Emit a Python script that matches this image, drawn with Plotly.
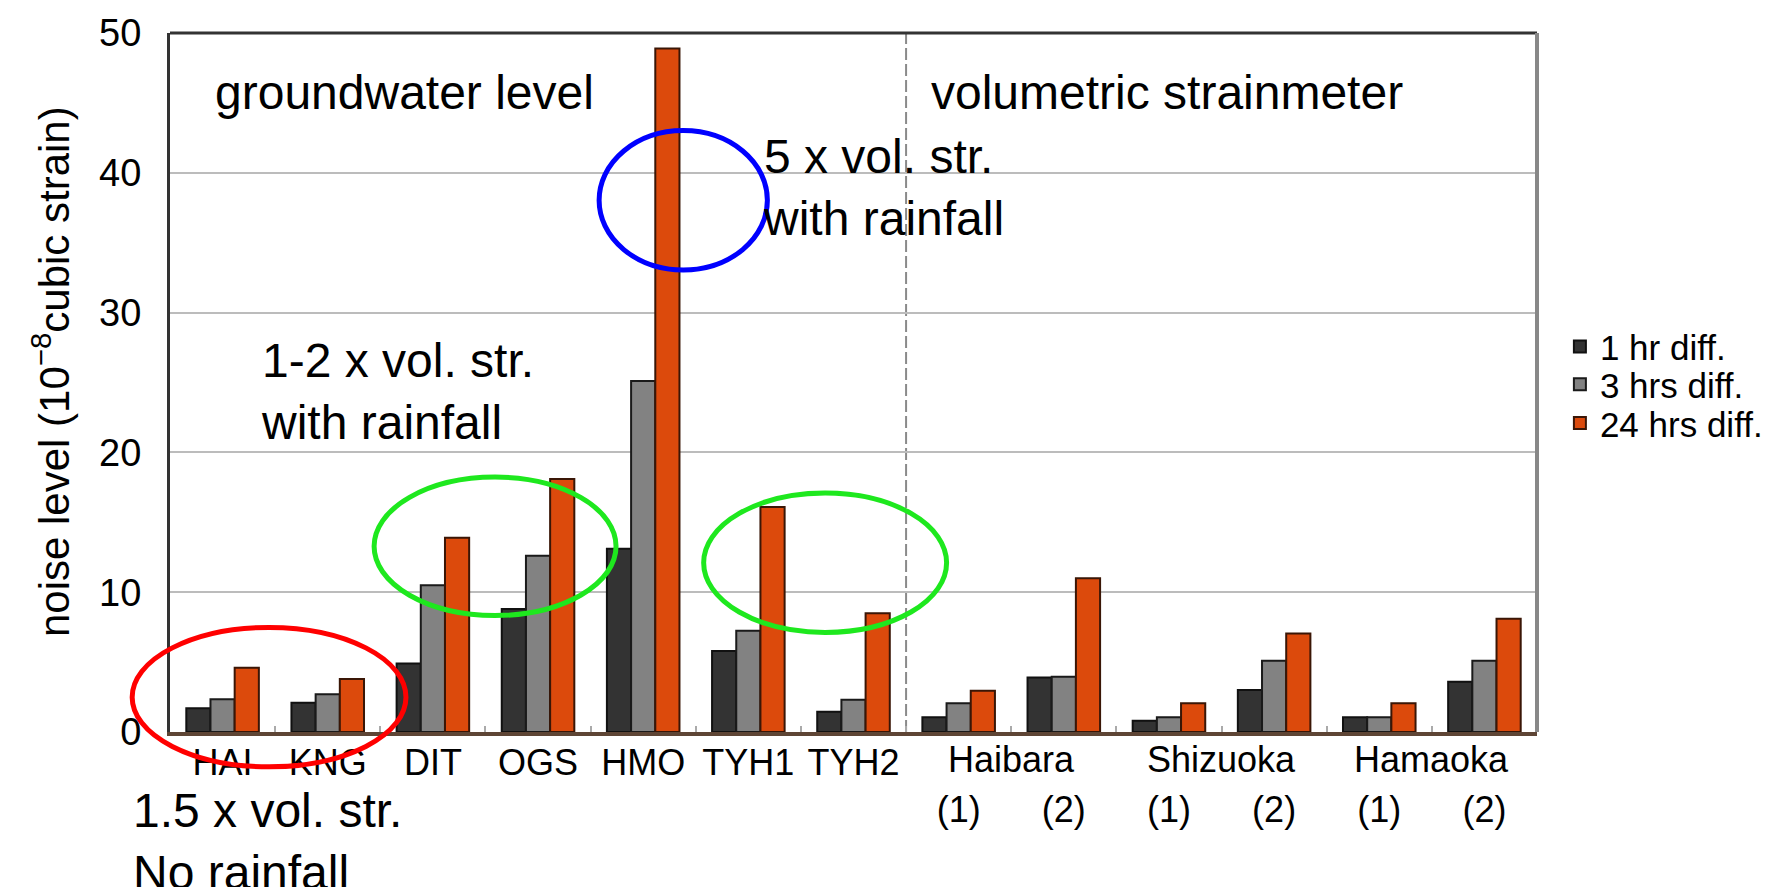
import plotly.graph_objects as go

# ---------------- data ----------------
categories = ["HAI", "KNG", "DIT", "OGS", "HMO", "TYH1", "TYH2",
              "Haibara (1)", "Haibara (2)", "Shizuoka (1)", "Shizuoka (2)",
              "Hamaoka (1)", "Hamaoka (2)"]
tick_labels = ["HAI", "KNG", "DIT", "OGS", "HMO", "TYH1", "TYH2",
               " <br>(1)", " <br>(2)", " <br>(1)", " <br>(2)", " <br>(1)", " <br>(2)"]
station_groups = ["Haibara", "Shizuoka", "Hamaoka"]
station_group_pos = [7.5, 9.5, 11.5]

diff_1hr = [1.7, 2.1, 4.9, 8.8, 13.1, 5.8, 1.45, 1.05, 3.9, 0.8, 3.0, 1.05, 3.6]
diff_3hrs = [2.35, 2.7, 10.5, 12.6, 25.1, 7.25, 2.3, 2.05, 3.95, 1.05, 5.1, 1.05, 5.1]
diff_24hrs = [4.6, 3.8, 13.9, 18.1, 48.9, 16.1, 8.5, 2.95, 11.0, 2.05, 7.05, 2.05, 8.1]

series_names = ["1 hr diff.", "3 hrs diff.", "24 hrs diff."]
series_values = [diff_1hr, diff_3hrs, diff_24hrs]
series_colors = ["#333333", "#828282", "#dc4a0c"]
series_edges = ["#111111", "#1a1a1a", "#3a1606"]

# ---------------- layout geometry (pixels) ----------------
W, H = 1780, 887
L, R, T, B = 170, 1543, 30, 732
FONT = "Liberation Sans, Arial, Helvetica, sans-serif"


def px_x(px):
    return (px - L) / (R - L)


def px_y(py):
    return (B - py) / (B - T)


legend_ids = ["legend", "legend2", "legend3"]
legend_rows = [345, 383, 422]

fig = go.Figure()
for name, vals, col, edge, lid in zip(series_names, series_values, series_colors,
                                      series_edges, legend_ids):
    fig.add_trace(go.Bar(
        x=categories, y=vals, name=name, legend=lid,
        marker=dict(color=col, line=dict(color=edge, width=2)),
    ))

shapes = []
# top border and right border of the frame
shapes.append(dict(type="line", xref="paper", yref="paper", x0=0, x1=1, y0=1, y1=1,
                   line=dict(color="#333333", width=3), layer="above"))
shapes.append(dict(type="line", xref="paper", yref="paper", x0=1, x1=1, y0=0, y1=1,
                   line=dict(color="#888888", width=4), layer="above"))
# dashed separator between groundwater and strainmeter stations
shapes.append(dict(type="line", xref="x", yref="paper", x0=6.5, x1=6.5, y0=0, y1=1,
                   line=dict(color="#8a8a8a", width=2, dash="12px,4px"), layer="below"))

# highlight ellipses (pixel boxes)
ellipses = [
    ((132, 407, 627, 767), "#ff0000"),
    ((375, 618, 476, 615), "#1ee81e"),
    ((706, 950, 492, 632), "#1ee81e"),
    ((601, 770, 128, 268), "#0000ff"),
]
for (x0, x1, y0, y1), col in ellipses:
    shapes.append(dict(type="circle", xref="paper", yref="paper",
                       x0=px_x(x0), x1=px_x(x1), y0=px_y(y1), y1=px_y(y0),
                       line=dict(color=col, width=5), layer="above"))

ANN = 48
annotations = []


def text_ann(txt, xpx, ypx, size=ANN):
    annotations.append(dict(text=txt, xref="paper", yref="paper",
                            x=px_x(xpx), y=px_y(ypx), xanchor="left", yanchor="middle",
                            align="left", showarrow=False,
                            font=dict(family=FONT, size=size, color="#000000")))


text_ann("groundwater level", 213, 90)
text_ann("volumetric strainmeter", 932, 90)
text_ann("5 x vol. str.<br>with rainfall", 764, 185)
text_ann("1-2 x vol. str.<br>with rainfall", 259, 390)
text_ann("1.5 x vol. str.<br>No rainfall", 131, 842)

for g, pos in zip(station_groups, station_group_pos):
    annotations.append(dict(text=g, xref="x", yref="paper", x=pos, y=px_y(760),
                            xanchor="center", yanchor="middle", showarrow=False,
                            font=dict(family=FONT, size=36, color="#000000")))

# y-axis title
annotations.append(dict(text="noise level (10<sup>\u22128</sup>cubic strain)",
                        xref="paper", yref="paper", x=px_x(50), y=px_y(370),
                        xanchor="center", yanchor="middle", textangle=-90,
                        showarrow=False,
                        font=dict(family=FONT, size=42, color="#000000")))

legend_common = dict(xanchor="left", yanchor="middle",
                     font=dict(family=FONT, size=35, color="#000000"),
                     bgcolor="rgba(0,0,0,0)", borderwidth=0, itemwidth=30)

fig.update_layout(
    width=W, height=H,
    margin=dict(l=L, r=W - R, t=T, b=H - B, pad=0),
    paper_bgcolor="white", plot_bgcolor="white",
    barmode="group", bargap=0.31, bargroupgap=0.0,
    font=dict(family=FONT, color="#000000"),
    showlegend=True,
    legend=dict(x=px_x(1566), y=px_y(legend_rows[0]), **legend_common),
    legend2=dict(x=px_x(1566), y=px_y(legend_rows[1]), **legend_common),
    legend3=dict(x=px_x(1566), y=px_y(legend_rows[2]), **legend_common),
    shapes=shapes,
    annotations=annotations,
    xaxis=dict(
        type="category", categoryorder="array", categoryarray=categories,
        tickmode="array", tickvals=categories, ticktext=tick_labels,
        tickson="boundaries", ticks="inside", ticklen=6, tickcolor="#aaaaaa", tickwidth=2,
        showgrid=False, showline=True, linecolor="#5e4535", linewidth=4,
        tickfont=dict(family=FONT, size=36, color="#000000"),
        ticklabelstandoff=-4, range=[-0.5, 12.5], fixedrange=True,
    ),
    yaxis=dict(
        range=[0, 50], tickmode="array", tickvals=[0, 10, 20, 30, 40, 50],
        ticktext=["0", "10", "20", "30", "40", "50"],
        showgrid=True, gridcolor="#bcbcbc", gridwidth=2,
        zeroline=False, showline=True, linecolor="#333333", linewidth=3,
        ticks="", tickfont=dict(family=FONT, size=38, color="#000000"),
        ticklabelstandoff=18, fixedrange=True,
    ),
)

fig.write_html("out.html")
